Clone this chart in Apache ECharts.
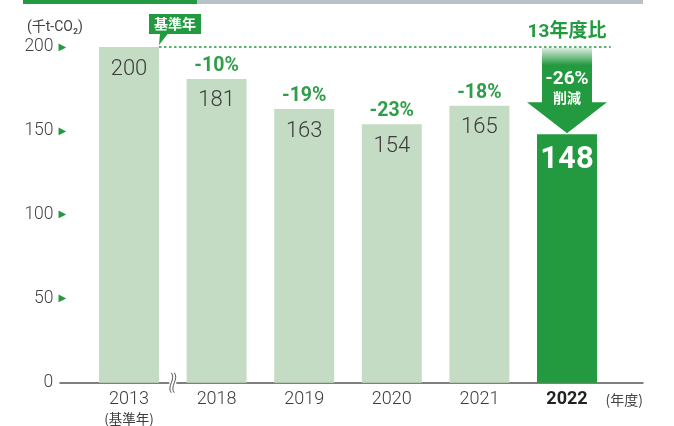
<!DOCTYPE html>
<html>
<head>
<meta charset="utf-8">
<script src="https://cdn.jsdelivr.net/npm/echarts@6/dist/echarts.min.js"></script>
<style>
  html, body { margin: 0; padding: 0; background: #fff; }
  #chart { width: 674px; height: 426px; }
</style>
</head>
<body>
<div id="chart"></div>
<script>
// Fiscal years and CO2 emissions (thousand t-CO2)
const categories = ['2013', '2018', '2019', '2020', '2021', '2022'];
const emissions = [200, 181, 163, 154, 165, 148];
// Change against the 2013 base year
const changeLabels = ['', '-10%', '-19%', '-23%', '-18%', ''];
const reductionLabel = '-26%';
const baseYearIndex = 0;
const latestIndex = 5;
const yTicks = [0, 50, 100, 150, 200];

const GREEN = '#239a3f';
const LIGHT = '#c4dcc3';
const TEXT = '#3c3c3c';
const FONT = 'Roboto, "Noto Sans CJK JP", sans-serif';
const CJK = '"Noto Sans CJK JP", Roboto, sans-serif';
const BAR_W = 60;

const chart = echarts.init(document.getElementById('chart'), null, { renderer: 'canvas' });

// Base-year reference: dotted line, "基準年" tag and the axis break mark
function renderBaseYear(params, api) {
  const cs = params.coordSys;
  const top = api.coord([api.value(0), api.value(1)]);
  const right = top[0] + BAR_W / 2;
  const gridRight = cs.x + cs.width;
  const y = top[1];
  const z0 = api.coord([0, 0]);
  const z1 = api.coord([1, 0]);
  const bx = (z0[0] + z1[0]) / 2;
  const by = z0[1];
  const wave = (x) => `M${x},${by - 10} C${x + 5},${by - 4} ${x - 5},${by + 4} ${x},${by + 10}`;
  return {
    type: 'group',
    children: [
      { type: 'line', shape: { x1: right, y1: y, x2: gridRight, y2: y },
        style: { stroke: GREEN, lineWidth: 1.5, lineDash: [2.5, 2.5] } },
      { type: 'rect', shape: { x: right - 10, y: y - 33, width: 52, height: 20 },
        style: { fill: GREEN } },
      { type: 'polygon', shape: { points: [[right + 1, y - 13.5], [right + 9, y - 13.5], [right, y - 2]] },
        style: { fill: GREEN } },
      { type: 'text', style: { x: right + 16, y: y - 23, text: '基準年', fill: '#fff',
        font: 'bold 14px ' + CJK, align: 'center', verticalAlign: 'middle' } },
      { type: 'rect', shape: { x: bx - 3.5, y: by - 3, width: 7, height: 6 }, style: { fill: '#fff' } },
      { type: 'path', shape: { pathData: wave(bx - 1.5) }, style: { stroke: '#555', fill: null, lineWidth: 1 } },
      { type: 'path', shape: { pathData: wave(bx + 1.5) }, style: { stroke: '#555', fill: null, lineWidth: 1 } }
    ]
  };
}

// Reduction arrow from the base-year level down to the latest bar
function renderArrow(params, api) {
  const idx = api.value(0);
  const from = api.coord([idx, api.value(1)]);
  const to = api.coord([idx, api.value(2)]);
  const cx = from[0];
  const topY = from[1] + 1;
  const tipY = to[1] - 1;
  const headY = tipY - 31;
  const sh = 25, hh = 40;
  return {
    type: 'group',
    children: [
      { type: 'polygon',
        shape: { points: [[cx - sh, topY], [cx + sh, topY], [cx + sh, headY], [cx + hh, headY],
                          [cx, tipY], [cx - hh, headY], [cx - sh, headY]] },
        style: { fill: new echarts.graphic.LinearGradient(0, 0, 0, 1, [
          { offset: 0, color: '#dbece0' },
          { offset: 0.2, color: GREEN },
          { offset: 1, color: GREEN }
        ]) } },
      { type: 'text', style: { x: cx, y: from[1] - 15, text: '13年度比', fill: GREEN,
        font: 'bold 19px ' + FONT, align: 'center', verticalAlign: 'middle' } },
      { type: 'text', style: { x: cx, y: topY + 31, text: reductionLabel, fill: '#fff',
        font: 'bold 19px ' + FONT, align: 'center', verticalAlign: 'middle' } },
      { type: 'text', style: { x: cx, y: topY + 50, text: '削減', fill: '#fff',
        font: 'bold 14px ' + CJK, align: 'center', verticalAlign: 'middle' } }
    ]
  };
}

const option = {
  animation: false,
  backgroundColor: '#fff',
  textStyle: { fontFamily: FONT },
  title: {
    text: '(千t-CO₂)', left: 22, top: 16,
    textStyle: { fontSize: 14, fontWeight: 'normal', color: '#444', fontFamily: FONT }
  },
  graphic: [
    { type: 'rect', left: 23, top: 0, shape: { width: 174, height: 4 }, style: { fill: GREEN } },
    { type: 'rect', left: 197, top: 0, shape: { width: 446, height: 4 }, style: { fill: '#b9c1c8' } }
  ],
  grid: [
    { left: 85.2, width: 525.6, top: 47, bottom: 43 },
    { left: 60, width: 583, top: 47, bottom: 43 }
  ],
  xAxis: [
    {
      type: 'category', gridIndex: 0, data: categories,
      axisLine: { show: false }, axisTick: { show: false },
      axisLabel: {
        margin: 7,
        formatter: (v, i) => i === baseYearIndex ? `{y|${v}}\n{s|(基準年)}`
          : i === latestIndex ? `{b|${v}}` : `{y|${v}}`,
        rich: {
          y: { fontSize: 18, fontWeight: 300, color: TEXT, lineHeight: 20, fontFamily: FONT },
          b: { fontSize: 18, fontWeight: 'bold', color: '#222', lineHeight: 20, fontFamily: FONT },
          s: { fontSize: 13.5, color: TEXT, lineHeight: 19, fontFamily: CJK }
        }
      }
    },
    {
      type: 'value', gridIndex: 1, min: 0, max: 1,
      axisLine: { show: true, lineStyle: { color: '#555', width: 1.5 } },
      axisTick: { show: false }, axisLabel: { show: false }, splitLine: { show: false },
      name: '(年度)', nameLocation: 'end', nameGap: 0,
      nameTextStyle: { align: 'right', verticalAlign: 'top', padding: [10, 0, 0, 0],
        fontSize: 14, color: '#444', fontFamily: CJK }
    }
  ],
  yAxis: [
    {
      type: 'value', gridIndex: 0,
      min: yTicks[0], max: yTicks[yTicks.length - 1], interval: yTicks[1] - yTicks[0],
      axisLine: { show: false }, axisTick: { show: false }, splitLine: { show: false },
      axisLabel: {
        margin: 19,
        formatter: (v) => v === 0 ? `{n|${v}}{g|}` : `{n|${v}}{a|▶}`,
        rich: {
          n: { fontSize: 17.5, fontWeight: 300, color: '#444', fontFamily: FONT },
          a: { fontSize: 10, color: GREEN, padding: [0, 0, 0, 5], fontFamily: 'DejaVu Sans' },
          g: { width: 13 }
        }
      }
    },
    { type: 'value', gridIndex: 1, min: 0, max: 200, show: false }
  ],
  series: [
    {
      type: 'bar', xAxisIndex: 0, yAxisIndex: 0, barWidth: BAR_W, z: 2,
      data: emissions.map((v, i) => ({
        value: v,
        itemStyle: { color: i === latestIndex ? GREEN : LIGHT },
        label: i === latestIndex
          ? { color: '#fff', fontSize: 31, fontWeight: 'bold', distance: 10 }
          : { color: TEXT, fontSize: 22, fontWeight: 300, distance: 11 }
      })),
      label: { show: true, position: 'insideTop', fontFamily: FONT }
    },
    {
      type: 'bar', xAxisIndex: 0, yAxisIndex: 0, barWidth: BAR_W, barGap: '-100%', z: 1,
      itemStyle: { color: 'rgba(0,0,0,0)' },
      data: emissions.slice(),
      label: {
        show: true, position: 'top', distance: 3,
        formatter: (p) => changeLabels[p.dataIndex],
        color: '#2e9e49', fontSize: 19.5, fontWeight: 'bold', fontFamily: FONT
      },
      silent: true
    },
    {
      type: 'custom', xAxisIndex: 0, yAxisIndex: 0, z: 5,
      renderItem: renderBaseYear,
      data: [[baseYearIndex, emissions[baseYearIndex]]]
    },
    {
      type: 'custom', xAxisIndex: 0, yAxisIndex: 0, z: 5,
      renderItem: renderArrow,
      data: [[latestIndex, emissions[baseYearIndex], emissions[latestIndex]]]
    }
  ]
};

chart.setOption(option);
</script>
</body>
</html>
